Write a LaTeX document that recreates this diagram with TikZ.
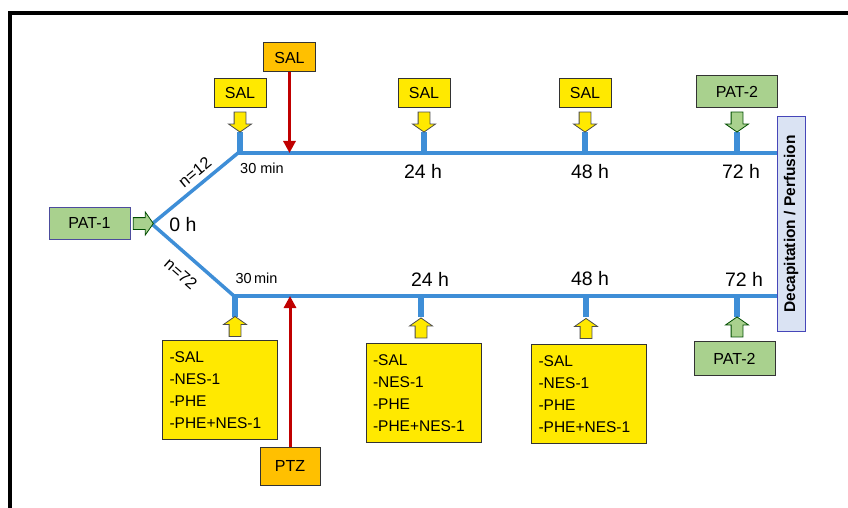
\documentclass[tikz,border=0pt]{standalone}
\usepackage{fontspec}
\setmainfont{Liberation Sans}
\usepackage{tikz}
\usetikzlibrary{arrows.meta, positioning, calc, shapes.arrows}

\definecolor{tlblue}{RGB}{62,142,215}
\definecolor{salyellow}{RGB}{255,233,0}
\definecolor{ptzorange}{RGB}{255,192,0}
\definecolor{patgreen}{RGB}{169,209,142}
\definecolor{decapblue}{RGB}{218,227,243}
\definecolor{injred}{RGB}{192,0,0}

\begin{document}
\begin{tikzpicture}[x=1pt, y=1pt,
    timeline/.style={draw=tlblue, line width=3.5pt},
    tickmark/.style={draw=tlblue, line width=6pt},
    drugbox/.style={draw=black!80, fill=salyellow, line width=1pt, inner sep=0pt,
        minimum width=52pt, minimum height=29pt, font=\fontsize{16}{16}\selectfont},
    listbox/.style={draw=black!80, fill=salyellow, line width=1pt, inner xsep=7pt,
        text width=101pt, minimum height=99pt, align=left,
        font=\fontsize{15.5}{22}\selectfont},
    patbox/.style={draw=black!80, fill=patgreen, line width=1pt, inner sep=0pt,
        minimum width=81pt, minimum height=32pt, font=\fontsize{16}{16}\selectfont},
    ptzbox/.style={draw=black!80, fill=ptzorange, line width=1pt, inner sep=0pt,
        font=\fontsize{16}{16}\selectfont},
    blockarrow/.style={single arrow, draw=black!70, line width=0.8pt,
        inner xsep=0pt, inner ysep=5.5pt, minimum height=20pt,
        single arrow head extend=5.5pt, single arrow tip angle=110},
    injarrow/.style={draw=injred, line width=3pt, -{Triangle[length=12pt, width=12pt]}},
    hourlabel/.style={font=\fontsize{19.5}{19.5}\selectfont},
    minlabel/.style={font=\fontsize{14.5}{14.5}\selectfont},
    nlabel/.style={font=\fontsize{16.5}{16.5}\selectfont, inner sep=2pt}]

    \useasboundingbox (0,0) rectangle (848,507);
    \draw[line width=3.5pt] (10,-10) -- (10,494) -- (860,494);

    % start and branches
    \node[patbox, draw=blue!45!black!70] (pat1) at (89.5,284) {PAT-1};
    \coordinate (br) at (152,283);
    \coordinate (ucorn) at (238,354);
    \coordinate (lcorn) at (234,211);
    \node[draw=blue!45!gray, fill=decapblue, line width=1pt, rotate=90,
        minimum width=214pt, minimum height=28pt, inner sep=0pt,
        font=\bfseries\fontsize{15.5}{15.5}\selectfont] (decap) at (791,283) {Decapitation / Perfusion};

    \draw[timeline] (ucorn) -- node[nlabel, sloped, above=3pt, pos=0.41] {n=12} (br)
        -- node[nlabel, sloped, below=9pt, pos=0.5] {n=72} (lcorn);
    \draw[timeline] (ucorn) -- (ucorn -| decap.north);
    \draw[timeline] (lcorn) -- (lcorn -| decap.north);
    \node[blockarrow, fill=patgreen, draw=green!30!black] (a0) at ($(pat1.east)!0.5!(br)$) {};
    \node[hourlabel] (h0) at (183,282.5) {0 h};

    % ticks
    \foreach \x [count=\i] in {240,424,585,737} {
        \coordinate (ut\i) at (\x,375);
        \draw[tickmark] (ut\i) -- ++(0,-21);
    }
    \foreach \x [count=\i] in {235,421,586,737} {
        \coordinate (lt\i) at (\x,190);
        \draw[tickmark] (lt\i) -- ++(0,21);
    }

    % upper group
    \node[drugbox, above=24pt of ut1] (s1) {SAL};
    \node[drugbox, above=24pt of ut2] (s2) {SAL};
    \node[drugbox, above=24pt of ut3] (s3) {SAL};
    \node[patbox, above=24pt of ut4] (pat2u) {PAT-2};
    \foreach \b/\t in {s1/ut1, s2/ut2, s3/ut3} {
        \node[blockarrow, fill=salyellow, rotate=-90] at ($(\b.south)!0.5!(\t)$) {};
    }
    \node[blockarrow, fill=patgreen, draw=green!30!black, rotate=-90] (a4) at ($(pat2u.south)!0.5!(ut4)$) {};

    \node[drugbox, fill=ptzorange] (osal) at (289.5,449.5) {SAL};
    \draw[injarrow] (osal.south) -- (osal.south |- ucorn);

    \node[minlabel] (m30u) at (262,339) {30 min};
    \node[hourlabel] (h24u) at (423,336) {24 h};
    \node[hourlabel] (h48u) at (590,335.5) {48 h};
    \node[hourlabel] (h72u) at (741,335.5) {72 h};

    % lower group
    \node[listbox, below=23pt of lt1, xshift=-15pt] (b1) {-SAL\\-NES-1\\-PHE\\-PHE+NES-1};
    \node[listbox, below=26pt of lt2, xshift=2.5pt] (b2) {-SAL\\-NES-1\\-PHE\\-PHE+NES-1};
    \node[listbox, below=27pt of lt3, xshift=3pt] (b3) {-SAL\\-NES-1\\-PHE\\-PHE+NES-1};
    \node[patbox, below=24pt of lt4, xshift=-2.5pt, minimum height=34pt] (pat2l) {PAT-2};
    \foreach \b/\t in {b1/lt1, b2/lt2, b3/lt3} {
        \node[blockarrow, fill=salyellow, rotate=90] at ($(\b.north -| \t)!0.5!(\t)$) {};
    }
    \node[blockarrow, fill=patgreen, draw=green!30!black, rotate=90] (a8) at ($(pat2l.north -| lt4)!0.5!(lt4)$) {};

    \node[ptzbox, minimum width=60pt, minimum height=38pt] (ptz) at (290,41) {PTZ};
    \draw[injarrow] (ptz.north) -- (ptz.north |- lcorn);

    \node[minlabel] (m30l) at (256.5,229) {30\,min};
    \node[hourlabel] (h24l) at (430,228) {24 h};
    \node[hourlabel] (h48l) at (590,228) {48 h};
    \node[hourlabel] (h72l) at (744,228) {72 h};
\end{tikzpicture}
\end{document}
